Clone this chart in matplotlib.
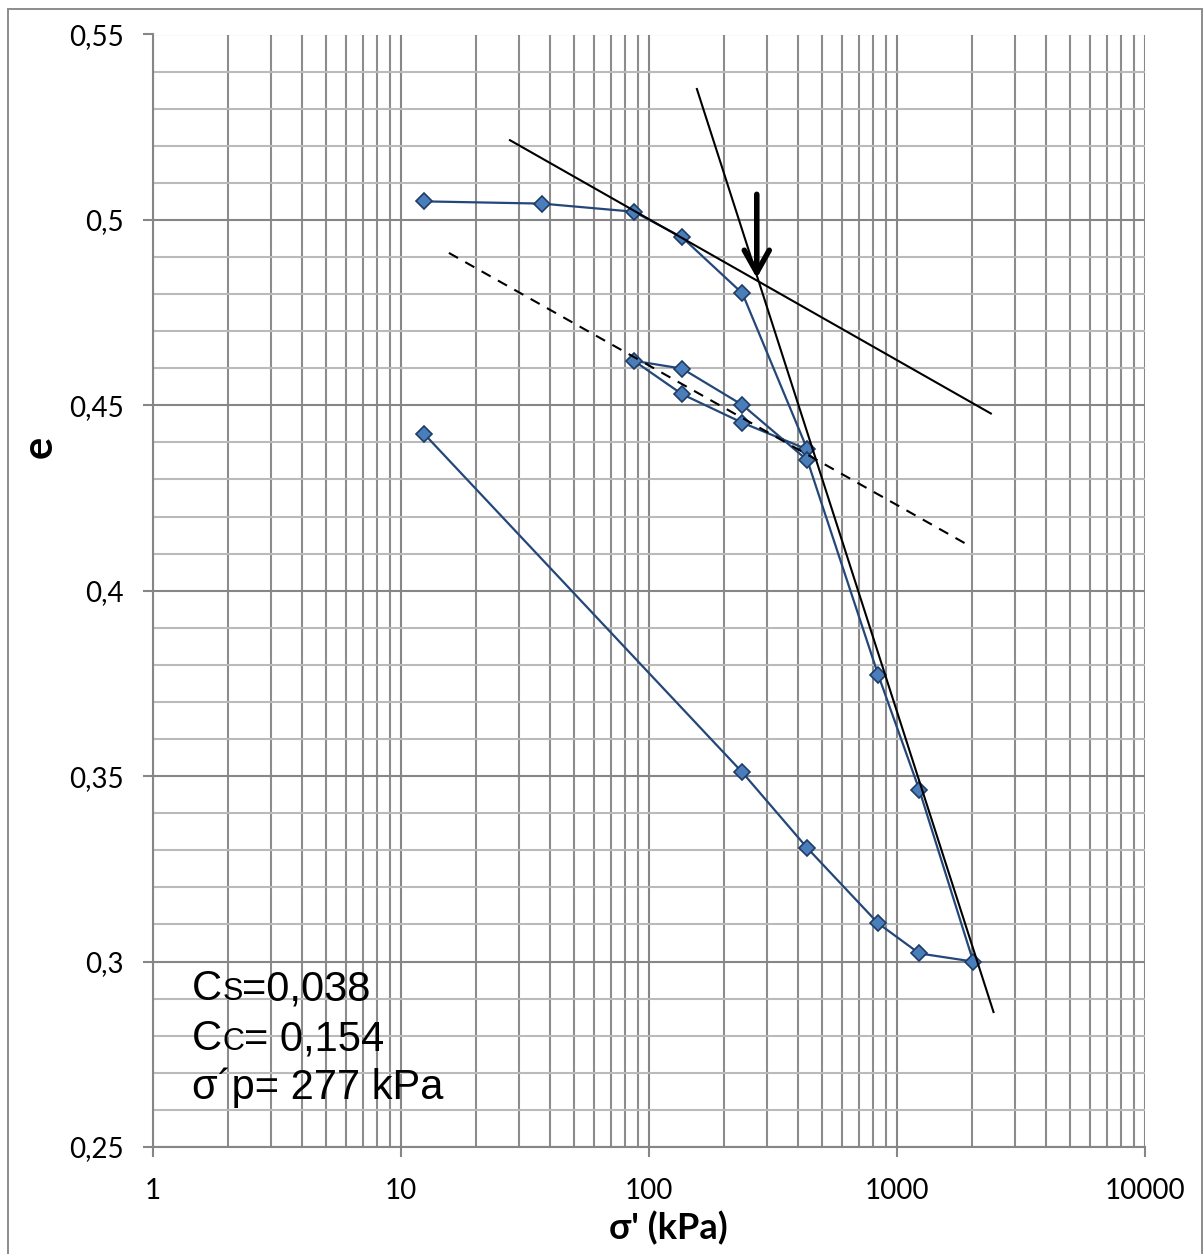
import matplotlib
matplotlib.use('Agg')
import matplotlib.pyplot as plt
from matplotlib.patches import Rectangle
from matplotlib.ticker import FixedLocator, NullFormatter, FuncFormatter

W, H = 1203, 1254

# oedometer test, in load order (kPa, void ratio)
sigma = [12.4, 37, 87, 136, 238, 435, 238, 136, 87, 136, 238, 435, 840, 1230, 2030, 1230, 840, 435, 238, 12.4]
e_val = [0.505, 0.5044, 0.5022, 0.4953, 0.4802, 0.4381, 0.4453, 0.453, 0.462, 0.4599, 0.4501, 0.4352,
         0.3773, 0.3463, 0.300, 0.3022, 0.3103, 0.3306, 0.351, 0.4423]

# construction lines
tan_x = [27.5, 2390]
tan_e = [0.5215, 0.4478]
cc_x = [156, 2450]
cc_e = [0.5353, 0.2864]
cs_x = [15.6, 1880]
cs_e = [0.4911, 0.4128]
arrow_x = 272
arrow_e = [0.5069, 0.4843]

y_ticks = [0.25, 0.30, 0.35, 0.40, 0.45, 0.50, 0.55]
x_ticks = [1, 10, 100, 1000, 10000]

fig = plt.figure(figsize=(W / 100, H / 100), dpi=100)
ax = fig.add_axes([153 / W, 1 - 1147 / H, (1145 - 153) / W, (1147 - 34.5) / H])

ax.set_xscale('log')
ax.set_xlim(1, 10000)
ax.set_ylim(0.25, 0.55)

grid_major = '#868686'
ax.xaxis.set_major_locator(FixedLocator(x_ticks))
ax.xaxis.set_minor_locator(FixedLocator([m * d for d in [1, 10, 100, 1000] for m in range(2, 10)]))
ax.xaxis.set_major_formatter(FuncFormatter(lambda v, p: '%d' % v))
ax.xaxis.set_minor_formatter(NullFormatter())
ax.yaxis.set_major_locator(FixedLocator(y_ticks))
ax.yaxis.set_minor_locator(FixedLocator([0.25 + 0.01 * i for i in range(31)]))
ax.yaxis.set_major_formatter(FuncFormatter(lambda v, p: ('%g' % round(v, 2)).replace('.', ',')))

ax.grid(which='major', color=grid_major, lw=1.5)
ax.grid(which='minor', axis='x', color='#8c8c8c', lw=1.5)
ax.grid(which='minor', axis='y', color='#bababa', lw=1.5)
ax.set_axisbelow(True)
ax.tick_params(which='minor', length=0)
ax.tick_params(which='major', length=7, width=1.5, color=grid_major, direction='out',
               labelsize=20)
ax.tick_params(axis='x', which='major', pad=15)
ax.tick_params(axis='y', which='major', pad=14)
for lab in ax.get_xticklabels() + ax.get_yticklabels():
    lab.set_family(['Lato', 'DejaVu Sans'])
for s in ['top', 'right']:
    ax.spines[s].set_visible(False)
for s in ['left', 'bottom']:
    ax.spines[s].set_color(grid_major)
    ax.spines[s].set_linewidth(1.5)

# data
ax.plot(sigma, e_val, color='#24477a', lw=1.6, marker='D', ms=8,
        mfc='#4a7ebb', mec='#1f3c66', mew=1.2, zorder=3)

# construction lines
ax.plot(tan_x, tan_e, color='black', lw=1.5, zorder=4)
ax.plot(cc_x, cc_e, color='black', lw=1.5, zorder=4)
ax.plot(cs_x, cs_e, color='black', lw=1.5, ls=(0, (5, 4)), zorder=4)
ax.annotate('', xy=(arrow_x, arrow_e[1]), xytext=(arrow_x, arrow_e[0]),
            arrowprops=dict(arrowstyle='->,head_length=0.8,head_width=0.45', lw=4,
                            color='black', mutation_scale=20, shrinkA=0, shrinkB=0),
            zorder=5)

# axis titles
fig.text(668 / W, 1 - 1228 / H, "σ' (kPa)", fontsize=26, fontweight='bold',
         family=['Lato', 'DejaVu Sans'], ha='center', va='center')
fig.text(40 / W, 1 - 447 / H, 'e', fontsize=30, fontweight='bold',
         family=['Lato', 'DejaVu Sans'], ha='center', va='center', rotation=90)

# result box text
fig.canvas.draw()
r = fig.canvas.get_renderer()
lines = [
    [('C', 30), ('S', 22), ('=0,038', 30)],
    [('C', 30), ('C', 22), ('= 0,154', 30)],
    [('σ´p= 277 kPa', 30)],
]
baselines = [1000, 1050, 1099]
for parts, yb in zip(lines, baselines):
    x = 192
    for txt, fs in parts:
        t = fig.text(x / W, 1 - yb / H, txt, fontsize=fs, family='Liberation Sans',
                     ha='left', va='baseline')
        bb = t.get_window_extent(r)
        x = x + bb.width

# outer chart border
fig.patches.append(Rectangle((8 / W, -0.01), (1202 - 8) / W, 1.01 - 9 / H,
                             transform=fig.transFigure, fill=False,
                             edgecolor='#8c8c8c', lw=1.4))

fig.savefig('out.png', dpi=100)
